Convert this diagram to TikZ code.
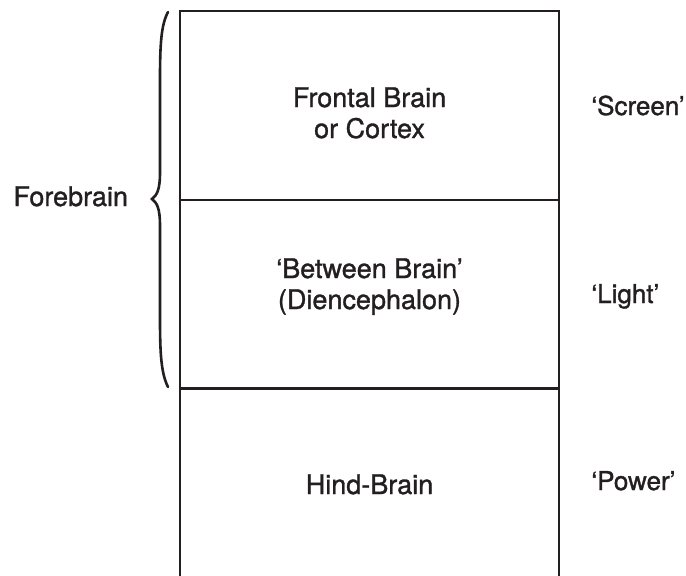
\documentclass[tikz,border=0pt]{standalone}
\usepackage{fontspec}
\setmainfont{TeX Gyre Heros}[RawFeature={embolden=1.2}]
\definecolor{ink}{HTML}{231F20}
\begin{document}
\begin{tikzpicture}[x=0.5pt,y=-0.5pt,
  lbl/.style={font=\fontsize{13.5}{16}\selectfont, text=ink, inner sep=0pt, anchor=base},
  lblw/.style={font=\fontsize{13}{16}\selectfont, text=ink, inner sep=0pt, anchor=base west},
  frame/.style={draw=ink, line width=1.35pt},
  bracepath/.style={draw=ink, line width=1.3pt, line cap=round}]
\useasboundingbox (0,0) rectangle (686,575);
% frame
\coordinate (tl) at (180,11);
\coordinate (tr) at (559,11);
\coordinate (bl) at (180,580);
\coordinate (br) at (559,580);
\coordinate (d1l) at (180,200);
\coordinate (d1r) at (559,200);
\coordinate (d2l) at (180,388.5);
\coordinate (d2r) at (559,388.5);
\draw[frame] (bl) -- (tl) -- (tr) -- (br);
\draw[frame] (d1l) -- (d1r);
\draw[frame] (d2l) -- (d2r);
% brace
\coordinate (btop) at (168,12);
\coordinate (btip) at (152,199);
\coordinate (bbot) at (168,387);
\draw[bracepath] (btop) .. controls (161,25) and (160,45) .. (160,80) -- (160,172)
  .. controls (160,190) and (157,195) .. (btip)
  .. controls (157,203) and (160,208) .. (160,226) -- (160,318)
  .. controls (160,353) and (161,373) .. (bbot);
% labels
\node[lbl] (f1) at (369.5,107) {Frontal Brain};
\node[lbl] (f2) at (369.5,138) {or Cortex};
\node[lbl] (b1) at (369.5,278) {‘Between Brain’};
\node[lbl] (b2) at (369.5,309) {(Diencephalon)};
\node[lbl] (h1) at (369.5,494) {Hind-Brain};
\node[lblw] (s) at (591,115) {‘Screen’};
\node[lblw] (l) at (591,303) {‘Light’};
\node[lblw] (p) at (591,490) {‘Power’};
\node[lbl, anchor=base west] (fb) at (13,206) {Forebrain};
\end{tikzpicture}
\end{document}
